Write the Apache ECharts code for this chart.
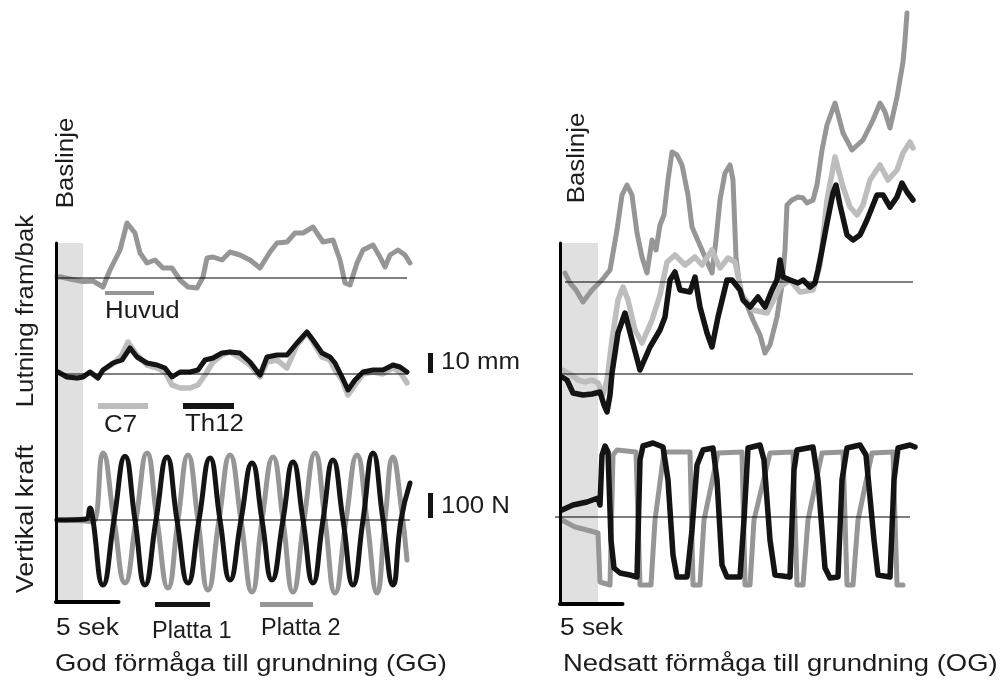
<!DOCTYPE html>
<html><head><meta charset="utf-8">
<script src="https://cdn.jsdelivr.net/npm/echarts@6/dist/echarts.min.js"></script>
<style>html,body{margin:0;padding:0;background:#fff}#c{width:1002px;height:684px}</style>
</head><body><div id="c"></div>
<script>
// ---- Data: [time (s), value] ; posture traces in mm, force traces in N ----
// Left panel: God förmåga till grundning (GG)
const ggHuvud = [[0.08,0.5],[0.32,0.6],[1.12,-0.5],[2.16,-1.8],[2.96,-1.5],[3.76,-4.5],[4.32,4],[5.12,14],[5.68,27.5],[6.32,22.5],[6.72,12.5],[7.28,7.5],[7.92,9],[8.56,5],[9.28,5],[9.92,-1],[10.56,-4.5],[11.28,-5],[11.76,0.5],[12.08,10],[12.56,10.5],[13.28,9],[13.92,13],[14.72,11.5],[15.52,9],[16.32,5],[17.12,13],[17.68,17.5],[18.48,18],[19.12,22.5],[19.76,22.5],[20.56,25.5],[21.36,18],[22.16,19],[22.72,9],[23.12,-2.5],[23.52,-3.5],[24.08,7.5],[24.56,14],[25.36,16.5],[25.92,10.5],[26.32,5.5],[26.72,11.5],[27.36,14],[27.92,11.5],[28.32,7.5]];
const ggC7 = [[0.16,1],[0.88,-1.5],[1.68,-2],[2.16,-1.5],[2.72,1],[3.36,-2],[3.76,2],[4.56,5],[5.28,9.5],[5.76,16],[6.48,9.5],[7.28,4.5],[8.08,3],[8.72,1],[9.28,-5.5],[9.92,-7],[10.72,-7],[11.36,-5.5],[11.92,-0.5],[12.56,6],[13.28,9.5],[13.92,11],[14.72,8],[15.52,4.5],[16.32,-1.5],[16.88,6],[17.68,7],[18.48,3],[19.28,14.5],[20.08,20.5],[20.56,16],[21.28,8.5],[21.92,7],[22.32,2],[22.88,-3],[23.36,-10.5],[23.92,-5.5],[24.56,0],[25.36,1],[26.16,0],[26.96,3],[27.52,1],[28.08,-4.5]];
const ggTh12 = [[0.16,1],[0.88,-1.5],[1.68,-2],[2.16,-1.5],[2.72,1],[3.36,-2],[3.76,2],[4.56,5.5],[5.28,7],[5.92,13],[6.48,8.5],[7.28,5.5],[8.08,4.5],[8.72,3],[9.28,-1.5],[9.92,1],[10.72,1],[11.36,2],[11.92,7],[12.56,8],[13.28,10.5],[13.92,11],[14.72,10.5],[15.52,6],[16.32,-0.5],[16.88,8.5],[17.68,9.5],[18.48,9.5],[19.28,15.5],[20.08,21],[20.56,17],[21.28,10.5],[21.92,8.5],[22.32,5.5],[22.88,-1.5],[23.36,-8],[23.92,-3],[24.56,1],[25.36,2],[26.16,2],[26.96,4.5],[27.52,3.5],[28.08,1]];
const ggPlatta1 = [[0.08,0],[2.4,4],[2.72,48],[2.9,20],[3.76,-260],[4.64,0],[5.52,255],[6.32,0],[7.12,-260],[8.0,0],[8.88,252],[9.68,0],[10.56,-252],[11.44,0],[12.32,248],[13.12,0],[13.92,-240],[14.8,0],[15.68,228],[16.48,0],[17.28,-240],[18.16,0],[18.96,232],[19.76,0],[20.56,-252],[21.36,0],[22.16,240],[22.96,0],[23.76,-260],[24.56,0],[25.36,268],[26.16,0],[26.96,-260],[27.6,0],[28.32,148]];
const ggPlatta2 = [[0.08,0],[2.4,-4],[2.96,-8],[3.76,268],[4.64,0],[5.52,-252],[6.4,0],[7.28,268],[8.08,0],[8.96,-272],[9.76,0],[10.56,260],[11.36,0],[12.16,-280],[13.04,0],[13.92,260],[14.8,0],[15.68,-288],[16.48,0],[17.36,252],[18.16,0],[18.96,-288],[19.84,0],[20.72,268],[21.52,0],[22.32,-292],[23.2,0],[24.08,260],[24.88,0],[25.68,-292],[26.32,0],[26.96,252],[27.6,60],[28.08,-160]];
// Right panel: Nedsatt förmåga till grundning (OG)
const ogHuvud = [[0.4,4.5],[0.8,-0.5],[1.28,-4],[1.84,-10],[2.56,-4],[3.36,1],[4.0,6],[4.56,26],[4.96,43.5],[5.36,48.5],[5.76,43.5],[6.16,24.5],[6.56,12.5],[6.96,4.5],[7.36,21],[7.68,16],[8.0,28.5],[8.32,33.5],[8.64,51],[8.96,65],[9.36,63.5],[9.76,58.5],[10.24,43.5],[10.56,27.5],[11.36,16],[12.16,4.5],[12.48,21],[12.8,41],[13.2,54.5],[13.6,58.5],[13.84,51],[14.08,12.5],[14.4,-4],[14.96,-11.5],[15.44,-19],[16.0,-26.5],[16.4,-35.5],[16.8,-31.5],[17.36,-17.5],[17.76,-1.5],[18.0,16],[18.16,38.5],[18.56,41],[19.04,42.5],[19.44,42],[19.76,39.5],[20.24,41],[20.56,48.5],[20.96,66],[21.36,78.5],[22.0,89.5],[22.64,74.5],[23.36,66],[24.24,71],[25.04,81],[25.6,89.5],[26.0,85],[26.4,77],[26.96,92.5],[27.44,110],[27.6,121],[27.76,134.5]];
const ogC7 = [[0.16,2],[0.8,0],[1.44,-3],[2.0,-4],[2.56,-3],[3.04,-4.5],[3.44,-10.5],[3.76,-3],[4.16,17],[4.64,37],[5.04,43.5],[5.44,37],[6.0,22],[6.56,15.5],[7.36,27],[8.0,39.5],[8.56,56],[9.2,59.5],[10.0,54.5],[10.8,58.5],[11.36,54.5],[12.16,62],[12.8,53],[13.44,58],[14.0,56],[14.56,39.5],[15.44,32],[16.56,30.5],[17.6,43.5],[18.4,47],[19.2,41],[20.24,42],[20.8,54.5],[21.36,87],[22.0,108.5],[22.64,93.5],[23.2,83.5],[23.76,79.5],[24.24,84.5],[24.8,97],[25.6,104.5],[26.24,97],[26.96,102],[27.44,110.5],[28.0,116],[28.24,113]];
const ogTh12 = [[0.16,-1.5],[0.56,-3],[1.04,-9.5],[1.84,-10.5],[2.56,-10],[3.2,-9],[3.52,-15.5],[3.76,-19],[4.0,-10.5],[4.16,0.5],[4.64,20.5],[5.2,30.5],[5.76,17],[6.4,2],[7.2,13.5],[8.0,22],[8.4,28.5],[8.8,47],[9.2,51],[9.6,42],[10.4,41],[10.8,48.5],[11.2,33.5],[11.76,20.5],[12.16,13.5],[12.64,28.5],[13.36,47],[13.76,47],[14.4,42],[14.64,37],[15.2,33.5],[15.84,38.5],[16.4,33.5],[16.96,42],[17.36,47],[17.6,57],[17.84,48.5],[18.4,47],[19.04,45.5],[19.44,47],[20.0,43.5],[20.4,45.5],[20.64,52],[20.96,62],[21.36,75.5],[21.84,90.5],[22.08,94.5],[22.4,84.5],[22.96,69.5],[23.44,67],[24.0,69.5],[24.56,77],[25.36,89.5],[25.84,89.5],[26.4,83.5],[26.96,88.5],[27.36,95.5],[27.76,91],[28.24,87]];
const ogPlatta1 = [[0.16,28],[1.04,48],[2.16,60],[3.04,76],[3.2,48],[3.36,248],[3.6,284],[3.84,260],[4.08,-92],[4.32,-204],[4.8,-224],[5.6,-232],[6.16,-240],[6.4,228],[6.64,284],[7.44,296],[8.24,280],[8.64,148],[9.04,-152],[9.36,-240],[10.16,-240],[10.56,-52],[10.96,208],[11.44,268],[12.24,276],[12.56,148],[12.96,-192],[13.36,-240],[14.4,-240],[14.72,-12],[15.04,276],[16.0,288],[16.32,228],[16.8,-92],[17.2,-232],[18.4,-240],[18.72,188],[18.96,268],[20.24,280],[20.64,148],[21.2,-204],[21.6,-244],[22.24,-240],[22.56,148],[22.96,276],[24.0,288],[24.48,248],[25.12,-92],[25.44,-232],[26.4,-240],[26.72,148],[27.04,276],[28.0,288],[28.4,280]];
const ogPlatta2 = [[0.16,-12],[1.2,-40],[2.16,-52],[3.04,-64],[3.2,-260],[4.0,-272],[4.24,248],[4.56,268],[6.08,260],[6.4,-272],[7.28,-272],[7.6,-12],[8.32,260],[10.4,260],[10.64,-272],[11.2,-272],[11.52,-12],[12.64,256],[14.56,260],[14.8,-272],[15.2,-272],[15.52,-12],[16.8,256],[18.64,260],[18.96,-272],[19.44,-272],[19.84,-12],[20.96,256],[22.64,260],[22.96,-272],[23.44,-272],[23.84,-12],[24.96,256],[26.64,260],[26.96,-272],[27.44,-272]];

// Baseline (shaded) intervals, seconds
const ggBaseline = [0.16, 2.16];
const ogBaseline = [0.16, 3.04];

// ---- styles ----
const C_HUV = '#969696', C_C7 = '#bdbdbd', C_BLK = '#141414', C_SHADE = '#e0e0e0', C_TXT = '#1c1c1c';
const FONT = "'Liberation Sans', Arial, Helvetica, sans-serif";

function trace(data, xi, yi, color, w, smooth, z) {
  return { type: 'line', data: data, xAxisIndex: xi, yAxisIndex: yi, showSymbol: false, symbol: 'none',
    smooth: smooth || false, z: z || 2, silent: true, animation: false,
    lineStyle: { color: color, width: w, join: 'round', cap: 'round' } };
}
function baseline(t0, t1, xi, yi) {
  return { type: 'line', data: [[t0, 0], [t1, 0]], xAxisIndex: xi, yAxisIndex: yi, showSymbol: false,
    symbol: 'none', z: 4, silent: true, animation: false, lineStyle: { color: '#000', width: 1.2 } };
}
function hiddenX(grid, min, max) { return { type: 'value', gridIndex: grid, min: min, max: max, show: false }; }
function hiddenY(grid, min, max) { return { type: 'value', gridIndex: grid, min: min, max: max, show: false }; }
function frameX(grid) {
  return { type: 'value', gridIndex: grid, min: 0, max: 5, z: 5,
    axisLine: { show: true, onZero: false, lineStyle: { color: '#000', width: 4 } },
    axisTick: { show: false }, axisLabel: { show: false }, splitLine: { show: false } };
}
function frameY(grid) {
  return { type: 'value', gridIndex: grid, min: 0, max: 1, z: 5,
    axisLine: { show: true, onZero: false, lineStyle: { color: '#000', width: 3 } },
    axisTick: { show: false }, axisLabel: { show: false }, splitLine: { show: false } };
}
function shade(xi, yi, iv) {
  return { type: 'line', data: [[0, 0]], xAxisIndex: xi, yAxisIndex: yi, symbol: 'none', silent: true,
    lineStyle: { opacity: 0 }, z: 1, animation: false,
    markArea: { silent: true, itemStyle: { color: C_SHADE }, data: [[{ xAxis: iv[0] }, { xAxis: iv[1] }]] } };
}
function txt(s, x, y, opt) {
  opt = opt || {};
  return { type: 'text', x: x, y: y, rotation: opt.rot || 0, scaleX: opt.sx || 1.1, z: 10, silent: true,
    style: { text: s, fill: C_TXT, fontSize: opt.fs || 23.5, fontFamily: FONT,
      align: opt.align || 'left', textAlign: opt.align || 'left', verticalAlign: 'middle', textVerticalAlign: 'middle' } };
}
function bar(x, y, w, h, color) {
  return { type: 'rect', shape: { x: x, y: y, width: w, height: h }, style: { fill: color }, z: 10, silent: true };
}

const option = {
  animation: false,
  backgroundColor: '#fff',
  grid: [
    { left: 43.5, top: 0, width: 387.5, height: 684 },   // left traces
    { left: 547.5, top: 0, width: 387.5, height: 684 },  // right traces
    { left: 56, top: 243, width: 62.5, height: 359 },    // left frame (5 s)
    { left: 560, top: 243, width: 62.5, height: 361 }    // right frame (5 s)
  ],
  xAxis: [hiddenX(0, -1, 30), hiddenX(1, -1, 30), frameX(2), frameX(3)],
  yAxis: [
    hiddenY(0, -203, 139),   // GG Huvud (mm)
    hiddenY(0, -155, 187),   // GG C7/Th12 (mm)
    hiddenY(0, -656, 2080),  // GG force (N)
    hiddenY(1, -201, 141),   // OG Huvud (mm)
    hiddenY(1, -155, 187),   // OG C7/Th12 (mm)
    hiddenY(1, -668, 2068),  // OG force (N)
    frameY(2), frameY(3)
  ],
  series: [
    shade(2, 6, ggBaseline),
    shade(3, 7, ogBaseline),
    baseline(0.16, 28.08, 0, 0),
    baseline(0.16, 28.08, 0, 1),
    baseline(-0.08, 28.32, 0, 2),
    baseline(0.4, 28.24, 1, 3),
    baseline(0.16, 28.24, 1, 4),
    baseline(-0.4, 28.0, 1, 5),
    trace(ggHuvud, 0, 0, C_HUV, 5),
    trace(ggC7, 0, 1, C_C7, 5.5),
    trace(ggTh12, 0, 1, C_BLK, 5),
    trace(ggPlatta2, 0, 2, C_HUV, 5, 0.5),
    trace(ggPlatta1, 0, 2, C_BLK, 5, 0.5),
    trace(ogHuvud, 1, 3, C_HUV, 5),
    trace(ogC7, 1, 4, C_C7, 5.5),
    trace(ogTh12, 1, 4, C_BLK, 5.5),
    trace(ogPlatta2, 1, 5, C_HUV, 5),
    trace(ogPlatta1, 1, 5, C_BLK, 5.5)
  ],
  graphic: { elements: [
    txt('Baslinje', 67, 163, { rot: Math.PI / 2, align: 'center' }),
    txt('Lutning fram/bak', 27, 311, { rot: Math.PI / 2, align: 'center' }),
    txt('Vertikal kraft', 27, 519, { rot: Math.PI / 2, align: 'center', sx: 1.15 }),
    txt('Baslinje', 578, 158, { rot: Math.PI / 2, align: 'center' }),
    txt('Huvud', 105, 312),
    txt('C7', 104, 426),
    txt('Th12', 185, 425),
    txt('10 mm', 441, 363),
    txt('100 N', 441, 507),
    txt('5 sek', 56, 629, { sx: 1.12 }),
    txt('Platta 1', 152, 632, { sx: 1.0 }),
    txt('Platta 2', 261, 629, { sx: 1.0 }),
    txt('5 sek', 560, 629, { sx: 1.12 }),
    txt('God förmåga till grundning (GG)', 55, 664, { fs: 24.5, sx: 1.12 }),
    txt('Nedsatt förmåga till grundning (OG)', 563, 664, { fs: 24.5, sx: 1.12 }),
    bar(105, 291, 49, 4, C_HUV),
    bar(98, 403, 50, 6, C_C7),
    bar(183, 403, 51, 6, C_BLK),
    bar(155, 602, 55, 5, C_BLK),
    bar(260, 602, 53, 5, C_HUV),
    bar(428, 353, 5, 20, C_BLK),
    bar(428, 493, 5, 25, C_BLK)
  ] }
};
const chart = echarts.init(document.getElementById('c'), null, { renderer: 'canvas' });
chart.setOption(option);
</script></body></html>
